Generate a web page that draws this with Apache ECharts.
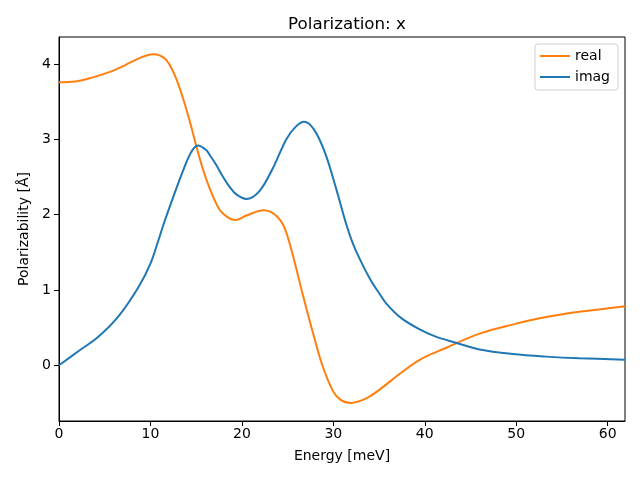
<!DOCTYPE html>
<html>
<head>
<meta charset="utf-8">
<script src="https://cdn.jsdelivr.net/npm/echarts@6/dist/echarts.min.js"></script>
<style>html,body{margin:0;padding:0;background:#fff}#c{width:640px;height:480px}</style>
</head>
<body>
<div id="c"></div>
<script>
const realE = [0, 1.8, 3.6, 5.4, 7.3, 9.0, 10.3, 11.6, 12.6, 13.55, 14.3, 15.0, 15.7, 16.45, 17.55, 18.65, 19.3, 20.5, 22.4, 23.1, 23.9, 24.5, 24.95, 25.6, 26.7, 27.8, 28.8, 29.95, 30.8, 31.9, 33.6, 35.2, 37.2, 39.4, 42.3, 46.0, 49.6, 53.3, 56.9, 61.9];
const realV = [3.76, 3.77, 3.82, 3.89, 3.99, 4.09, 4.13, 4.07, 3.87, 3.55, 3.24, 2.92, 2.62, 2.36, 2.07, 1.95, 1.93, 1.99, 2.06, 2.04, 1.97, 1.87, 1.73, 1.45, 0.92, 0.42, 0.0, -0.34, -0.46, -0.50, -0.44, -0.31, -0.12, 0.07, 0.23, 0.42, 0.54, 0.64, 0.71, 0.785];
const imagE = [0, 2.15, 4.3, 6.5, 8.7, 10.0, 10.9, 11.4, 12.45, 13.55, 14.45, 15.2, 16.1, 16.5, 17.2, 17.9, 18.6, 19.4, 20.5, 21.9, 23.4, 24.85, 25.9, 26.8, 27.9, 29.1, 30.3, 31.4, 32.1, 32.9, 34.0, 35.05, 35.8, 37.4, 39.4, 41.2, 43.4, 46.0, 49.6, 53.3, 56.9, 61.9];
const imagV = [0, 0.19, 0.38, 0.65, 1.04, 1.35, 1.67, 1.86, 2.22, 2.58, 2.83, 2.92, 2.86, 2.79, 2.66, 2.51, 2.38, 2.27, 2.21, 2.31, 2.62, 3.00, 3.17, 3.235, 3.13, 2.82, 2.35, 1.88, 1.63, 1.41, 1.15, 0.95, 0.82, 0.63, 0.48, 0.38, 0.30, 0.21, 0.15, 0.115, 0.093, 0.075];
const xTicks = [0, 10, 20, 30, 40, 50, 60];
const yTicks = [0, 1, 2, 3, 4];
const xMin = 0, xMax = 61.9, yMin = -0.74, yMax = 4.36;

const pair = (xs, ys) => xs.map((x, i) => [x, ys[i]]);
const font = 'DejaVu Sans';
const chart = echarts.init(document.getElementById('c'), null, {renderer: 'canvas'});
chart.setOption({
  animation: false,
  backgroundColor: '#fff',
  textStyle: {fontFamily: font},
  title: {
    text: 'Polarization: x', left: 342, top: 11, textAlign: 'center',
    textStyle: {fontFamily: font, fontSize: 16.7, fontWeight: 'normal', color: '#000'}
  },
  grid: {left: 59, right: 15, top: 37, bottom: 59, show: true, borderColor: '#000', borderWidth: 1, containLabel: false},
  legend: {
    orient: 'vertical', right: 22, top: 44,
    data: ['real', 'imag'],
    icon: 'rect', itemWidth: 30, itemHeight: 2, itemGap: 7,
    padding: [5, 8, 6, 5],
    borderColor: '#d0d0d0', borderWidth: 1, borderRadius: 3,
    textStyle: {fontFamily: font, fontSize: 14, color: '#000'}
  },
  xAxis: {
    type: 'value', min: xMin, max: xMax,
    name: 'Energy [meV]', nameLocation: 'middle', nameGap: 28,
    nameTextStyle: {fontFamily: font, fontSize: 14, color: '#000'},
    axisLine: {show: true, onZero: false, lineStyle: {color: '#000', width: 1}},
    axisTick: {show: true, inside: false, length: 5, customValues: xTicks, lineStyle: {color: '#000'}},
    axisLabel: {customValues: xTicks, color: '#000', fontSize: 14, fontFamily: font, margin: 6},
    splitLine: {show: false}
  },
  yAxis: {
    type: 'value', min: yMin, max: yMax,
    name: 'Polarizability [Å]', nameLocation: 'middle', nameGap: 27,
    nameTextStyle: {fontFamily: font, fontSize: 14, color: '#000'},
    axisLine: {show: true, onZero: false, lineStyle: {color: '#000', width: 1}},
    axisTick: {show: true, inside: false, length: 5, customValues: yTicks, lineStyle: {color: '#000'}},
    axisLabel: {customValues: yTicks, color: '#000', fontSize: 14, fontFamily: font, margin: 8},
    splitLine: {show: false}
  },
  series: [
    {name: 'real', type: 'line', data: pair(realE, realV), showSymbol: false, symbol: 'none', smooth: 0.35,
     lineStyle: {color: '#ff7f0e', width: 2}, itemStyle: {color: '#ff7f0e'}},
    {name: 'imag', type: 'line', data: pair(imagE, imagV), showSymbol: false, symbol: 'none', smooth: 0.35,
     lineStyle: {color: '#1f77b4', width: 2}, itemStyle: {color: '#1f77b4'}}
  ]
});
</script>
</body>
</html>
